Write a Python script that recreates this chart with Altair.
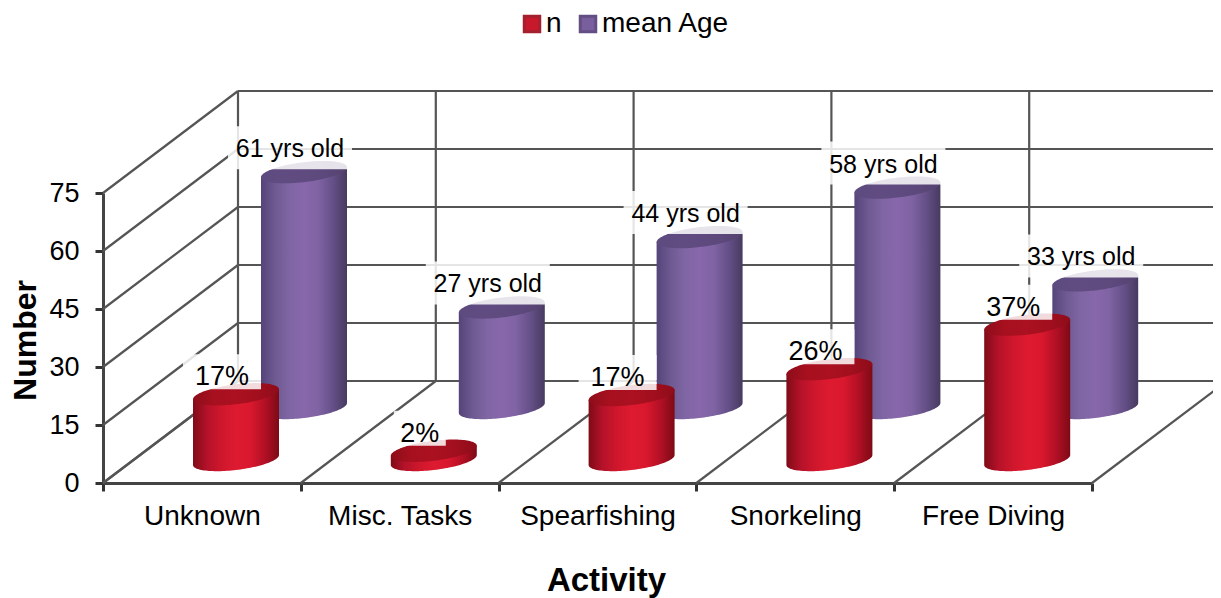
import altair as alt
import numpy as np
import pandas as pd

categories = ["Unknown", "Misc. Tasks", "Spearfishing", "Snorkeling", "Free Diving"]
n_values = [17, 2.4, 16.8, 23.5, 35]
age_values = [61, 26, 44.2, 57, 33]
n_labels = ["17%", "2%", "17%", "26%", "37%"]
age_labels = ["61 yrs old", "27 yrs old", "44 yrs old", "58 yrs old", "33 yrs old"]
y_ticks = [0, 15, 30, 45, 60, 75]
series_names = ["n", "mean Age"]

FONT = "Liberation Sans"
W, H = 989, 290
PX_X = W / 5            # pixels per category
PX_Y = H / 75           # pixels per value unit
DEPTH_X = 135 / PX_X
DEPTH_Y = 102 / PX_Y
HALF_W = 43 / PX_X
HALF_H = 10 / PX_Y
TILT = 5 / PX_Y
LABEL_DX = 14 / PX_X

SERIES = {
    "n": dict(shift=133 / PX_X, base=23 / PX_Y),
    "mean Age": dict(shift=201 / PX_X, base=75 / PX_Y),
}


def grad(colors):
    offsets = np.linspace(0, 1, len(colors))
    return alt.Gradient(
        gradient="linear", x1=0, x2=1, y1=0, y2=0,
        stops=[alt.GradientStop(offset=float(o), color=c) for o, c in zip(offsets, colors)],
    )


red_body = grad(["#7f0b17", "#b5122a", "#cf172c", "#dd1a30", "#d9182e", "#b31025", "#7d0a15"])
red_cap = grad(["#8e0d1a", "#a8101f", "#ab1120", "#a20f1e", "#8e0c19"])
pur_body = grad(["#54447a", "#6f5a92", "#7f66a4", "#8867ab", "#7f63a3", "#655088", "#473a60"])
pur_cap = grad(["#5d4a7e", "#604c80", "#5f4b7f", "#5c487b", "#54426f"])


def build(series, values):
    spec = SERIES[series]
    body, cap, tops = [], [], []
    us = np.cos(np.linspace(np.pi, 0, 61))
    for i, v in enumerate(values):
        cx = i + spec["shift"]
        top = spec["base"] + v
        for u in us:
            r = np.sqrt(max(0.0, 1 - u * u))
            x = cx + HALF_W * u
            body.append(dict(k=i, x=x, y=top + TILT * u,
                             y2=spec["base"] + TILT * u - HALF_H * r))
            cap.append(dict(k=i, x=x, y=top + TILT * u + HALF_H * r,
                            y2=top + TILT * u - HALF_H * r))
        tops.append(dict(x=cx, y=top))
    return pd.DataFrame(body), pd.DataFrame(cap), pd.DataFrame(tops)


grid = []
for v in y_ticks:
    grid.append(dict(x=0, y=v, x2=DEPTH_X, y2=v + DEPTH_Y))
    grid.append(dict(x=DEPTH_X, y=v + DEPTH_Y, x2=5 + DEPTH_X, y2=v + DEPTH_Y))
for i in range(6):
    grid.append(dict(x=i, y=0, x2=i + DEPTH_X, y2=DEPTH_Y))
    grid.append(dict(x=i + DEPTH_X, y=DEPTH_Y, x2=i + DEPTH_X, y2=75 + DEPTH_Y))
grid = pd.DataFrame(grid)

y_axis = alt.Axis(title="Number", values=y_ticks, labelFont=FONT, labelFontSize=27,
                  labelColor="#000", labelPadding=16, tickSize=8, tickWidth=3,
                  tickColor="#333", domainColor="#444", domainWidth=3, grid=False,
                  titleFont=FONT, titleFontSize=32, titleFontWeight="bold",
                  titleColor="#000", titleX=-78, titleY=147, titleAngle=270,
                  titleBaseline="middle", titleAnchor="middle")

xs = alt.Scale(domain=[0, 5], nice=False, zero=False)
ys = alt.Scale(domain=[0, 75], nice=False, zero=False)
X = alt.X("x:Q", scale=xs, axis=None)
Y = alt.Y("y:Q", scale=ys, axis=y_axis)

legend = alt.Legend(title=None, orient="none", legendX=415, legendY=-183,
                    direction="horizontal", symbolType="square",
                    symbolSize=240, labelFont=FONT, labelFontSize=28,
                    labelColor="#000", labelOffset=0, columnPadding=12,
                    symbolStrokeWidth=3, padding=0)

frame = pd.DataFrame({"cat": categories, "y": [0] * 5, "series": (series_names * 3)[:5]})
base_layer = alt.Chart(frame).mark_square(size=0, opacity=1).encode(
    x=alt.X("cat:N", sort=categories,
            scale=alt.Scale(type="band", paddingInner=0, paddingOuter=0),
            axis=alt.Axis(title="Activity", tickBand="extent", labelAngle=0,
                          labelFont=FONT, labelFontSize=28, labelColor="#000",
                          labelPadding=11, tickSize=8, tickWidth=3, tickColor="#333",
                          domainColor="#444", domainWidth=3, grid=False,
                          titleFont=FONT, titleFontSize=33, titleFontWeight="bold",
                          titleColor="#000", titleX=503, titleY=107,
                          titleBaseline="alphabetic", titleAnchor="middle")),
    y=Y,
    color=alt.Color("series:N",
                    scale=alt.Scale(domain=series_names, range=["#c8182c", "#7a5f9e"]),
                    legend=legend),
    stroke=alt.Stroke("series:N",
                      scale=alt.Scale(domain=series_names, range=["#a3202e", "#644f84"]),
                      legend=legend),
)

grid_layer = alt.Chart(grid).mark_rule(color="#555555", strokeWidth=2.2).encode(
    x=X, y=Y, x2="x2:Q", y2="y2:Q")


def cylinders(series, values, labels, body_fill, cap_fill, label_size, dy, char_w, up, down):
    body, cap, tops = build(series, values)
    tops["label"] = labels
    half = tops["label"].str.len() * char_w / PX_X
    tops["px"] = tops["x"] - LABEL_DX - half
    tops["px2"] = tops["x"] - LABEL_DX + half
    tops["py"] = tops["y"] + down / PX_Y
    tops["py2"] = tops["y"] + up / PX_Y
    b = alt.Chart(body).mark_area(color=body_fill).encode(x=X, y=Y, y2="y2:Q", detail="k:N")
    c = alt.Chart(cap).mark_area(color=cap_fill).encode(x=X, y=Y, y2="y2:Q", detail="k:N")
    patch = alt.Chart(tops).mark_rect(color="#ffffff", opacity=0.85).encode(
        x=alt.X("px:Q", scale=xs, axis=None), x2="px2:Q",
        y=alt.Y("py:Q", scale=ys, axis=y_axis), y2="py2:Q")
    t = alt.Chart(tops).mark_text(
        font=FONT, fontSize=label_size, dx=-14, dy=dy, color="#000000").encode(
        x=X, y=Y, text="label:N")
    return [b, c, patch, t]


layers = (
    [base_layer, grid_layer]
    + cylinders("mean Age", age_values, age_labels, pur_body, pur_cap, 25, -23, 6.2, 46, 3)
    + cylinders("n", n_values, n_labels, red_body, red_cap, 27, -17, 13, 40, 5)
)

chart = alt.layer(*layers).resolve_scale(x="independent", y="shared").properties(
    width=W, height=H,
    padding={"left": 95, "top": 185, "right": 121, "bottom": 115},
    autosize=alt.AutoSizeParams(type="none"),
).configure_view(stroke=None)

chart.save("out.html", embed_options={"renderer": "svg", "actions": False})
